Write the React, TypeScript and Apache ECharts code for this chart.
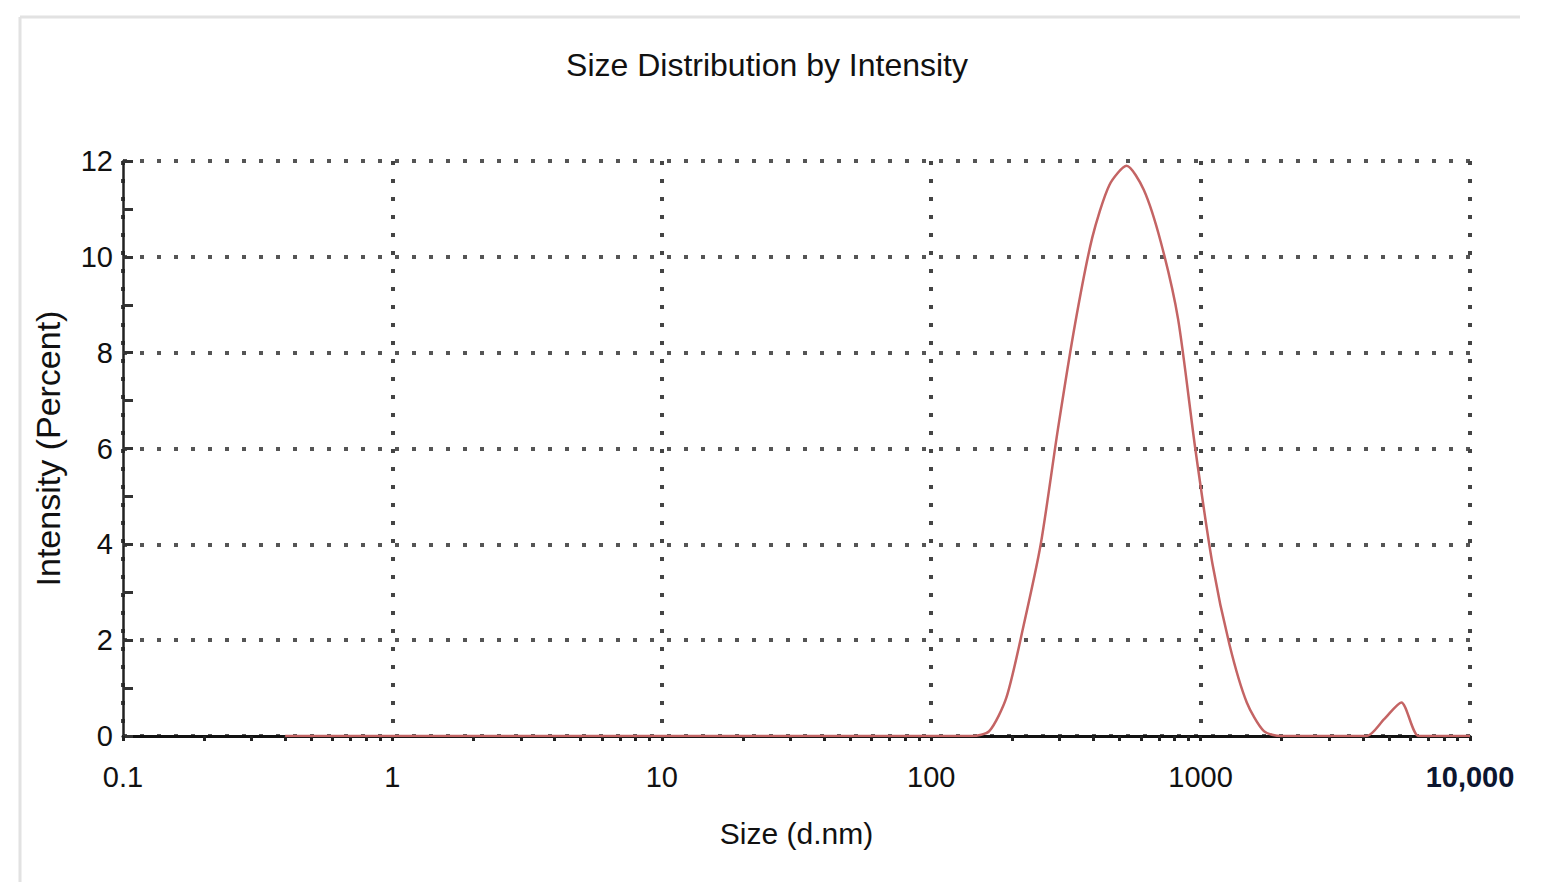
import React, { useEffect, useRef } from "react";
import * as echarts from "echarts";

// Size bins (d.nm) and intensity (%)
const sizes: number[] = [
  0.4, 0.4632, 0.5365, 0.6213, 0.7195, 0.8332, 0.9649, 1.117, 1.294, 1.499,
  1.736, 2.01, 2.328, 2.696, 3.122, 3.615, 4.187, 4.849, 5.615, 6.503,
  7.531, 8.721, 10.1, 11.7, 13.54, 15.69, 18.17, 21.04, 24.36, 28.21,
  32.67, 37.84, 43.82, 50.75, 58.77, 68.06, 78.82, 91.28, 105.7, 122.4,
  141.8, 164.2, 190.1, 220.2, 255.0, 295.3, 342.0, 396.1, 458.7, 531.2,
  615.1, 712.4, 825.0, 955.4, 1106, 1281, 1484, 1718, 1990, 2305,
  2669, 3091, 3580, 4145, 4801, 5560, 6439, 7456, 8635, 10000,
];
const intensity: number[] = [
  0, 0, 0, 0, 0, 0, 0, 0, 0, 0,
  0, 0, 0, 0, 0, 0, 0, 0, 0, 0,
  0, 0, 0, 0, 0, 0, 0, 0, 0, 0,
  0, 0, 0, 0, 0, 0, 0, 0, 0, 0,
  0, 0.1, 0.8, 2.3, 4.0, 6.4, 8.6, 10.4, 11.5, 11.9,
  11.4, 10.3, 8.7, 6.0, 3.6, 1.9, 0.7, 0.1, 0, 0,
  0, 0, 0, 0, 0.35, 0.7, 0, 0, 0, 0,
];
const yTicks = { min: 0, max: 12, interval: 2 };
const xRange = { min: 0.1, max: 10000 };

const title = "Size Distribution by Intensity";
const xName = "Size (d.nm)";
const yName = "Intensity (Percent)";

const FONT = "'Liberation Sans', Arial, sans-serif";

export default function App() {
  const ref = useRef<HTMLDivElement>(null);
  useEffect(() => {
    if (!ref.current) return;
    const chart = echarts.init(ref.current, undefined, { renderer: "svg" });
    const data = sizes.map((s, i) => [s, intensity[i]]);
    chart.setOption({
      animation: false,
      backgroundColor: "#ffffff",
      title: {
        text: title,
        left: 762,
        textAlign: "center",
        top: 44,
        textStyle: { fontFamily: FONT, fontSize: 32, fontWeight: "normal", color: "#111" },
      },
      grid: { left: 123, right: 72, top: 161, bottom: 151, containLabel: false },
      xAxis: {
        type: "log",
        logBase: 10,
        min: xRange.min,
        max: xRange.max,
        name: xName,
        nameLocation: "middle",
        nameGap: 82,
        nameTextStyle: { fontFamily: FONT, fontSize: 30, color: "#111" },
        axisLine: { show: true, onZero: false, lineStyle: { color: "#111", width: 3 } },
        axisTick: { show: true, length: 5, lineStyle: { color: "#222", width: 3 } },
        minorTick: { show: true, splitNumber: 9, length: 5, lineStyle: { color: "#222", width: 3 } },
        splitLine: { show: true, lineStyle: { color: "#444", width: 4, type: [4, 14] } },
        axisLabel: {
          fontFamily: FONT,
          fontSize: 29,
          color: "#111",
          margin: 26,
          formatter: (v: number) => {
            if (v >= 9999) return "{b|10,000}";
            if (v < 0.5) return "0.1";
            return String(Math.round(v));
          },
          rich: { b: { fontFamily: FONT, fontSize: 29, fontWeight: "bold", color: "#0c1630" } },
        },
      },
      yAxis: {
        type: "value",
        min: yTicks.min,
        max: yTicks.max,
        interval: yTicks.interval,
        name: yName,
        nameLocation: "middle",
        nameGap: 58,
        nameRotate: 90,
        nameTextStyle: { fontFamily: FONT, fontSize: 34, color: "#111" },
        axisLine: { show: true, lineStyle: { color: "#222", width: 2.5 } },
        axisTick: { show: true, inside: true, length: 10, lineStyle: { color: "#333", width: 3 } },
        minorTick: { show: true, splitNumber: 2, length: 10, lineStyle: { color: "#333", width: 3 } },
        splitLine: { show: true, lineStyle: { color: "#555", width: 4, type: [4, 13] } },
        axisLabel: { fontFamily: FONT, fontSize: 29, color: "#111", margin: 10 },
      },
      graphic: [
        { type: "line", shape: { x1: 20, y1: 17, x2: 1520, y2: 17 }, style: { stroke: "#e2e2e2", lineWidth: 3 } },
        { type: "line", shape: { x1: 20, y1: 17, x2: 20, y2: 882 }, style: { stroke: "#e2e2e2", lineWidth: 3 } },
      ],
      series: [
        {
          type: "line",
          data,
          showSymbol: false,
          symbol: "none",
          smooth: 0.25,
          lineStyle: { color: "#c46464", width: 2.5 },
          z: 5,
        },
      ],
    });
    return () => chart.dispose();
  }, []);
  return (
    <div
      ref={ref}
      style={{ position: "absolute", left: 0, top: 0, width: 1542, height: 887 }}
    />
  );
}
